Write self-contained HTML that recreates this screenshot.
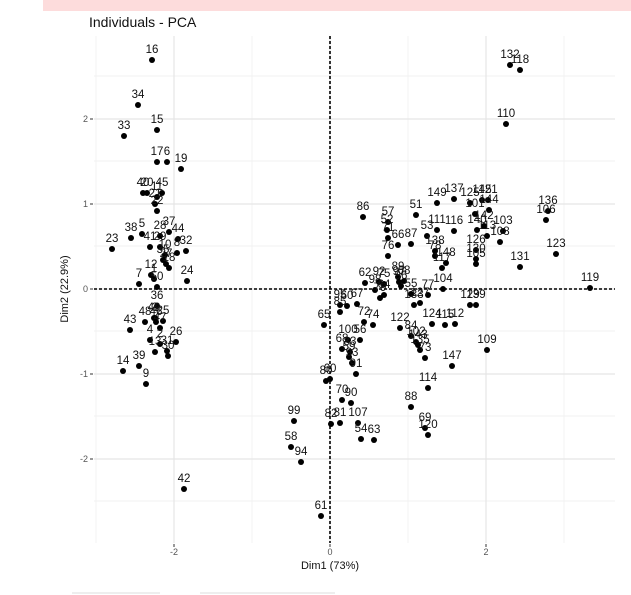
<!DOCTYPE html><html><head><style>body{margin:0;background:#fff}svg{display:block}text{font-family:"Liberation Sans",sans-serif}</style></head><body>
<svg width="631" height="595" viewBox="0 0 631 595" xmlns="http://www.w3.org/2000/svg">
<rect x="43" y="0" width="588" height="11" fill="#fddcdc"/>
<text x="89" y="27" font-size="14" fill="#111">Individuals - PCA</text>
<g stroke="#eeeeee" stroke-width="0.7">
<line x1="94" x2="615" y1="76" y2="76"/><line x1="94" x2="615" y1="161" y2="161"/><line x1="94" x2="615" y1="246" y2="246"/><line x1="94" x2="615" y1="331" y2="331"/><line x1="94" x2="615" y1="416" y2="416"/><line x1="94" x2="615" y1="501" y2="501"/>
<line x1="96" x2="96" y1="36" y2="543"/><line x1="252" x2="252" y1="36" y2="543"/><line x1="408" x2="408" y1="36" y2="543"/><line x1="564" x2="564" y1="36" y2="543"/>
</g>
<g stroke="#e5e5e5" stroke-width="1.2">
<line x1="94" x2="615" y1="119" y2="119"/><line x1="94" x2="615" y1="204" y2="204"/><line x1="94" x2="615" y1="289" y2="289"/><line x1="94" x2="615" y1="374" y2="374"/><line x1="94" x2="615" y1="459" y2="459"/>
<line x1="174" x2="174" y1="36" y2="543"/><line x1="330" x2="330" y1="36" y2="543"/><line x1="486" x2="486" y1="36" y2="543"/>
</g>
<g stroke="#333" stroke-width="1">
<line x1="90" x2="93" y1="119" y2="119"/><line x1="90" x2="93" y1="204" y2="204"/><line x1="90" x2="93" y1="289" y2="289"/><line x1="90" x2="93" y1="374" y2="374"/><line x1="90" x2="93" y1="459" y2="459"/>
<line x1="174" x2="174" y1="544" y2="547"/><line x1="330" x2="330" y1="544" y2="547"/><line x1="486" x2="486" y1="544" y2="547"/>
</g>
<g font-size="9" fill="#555" text-anchor="end">
<text x="88" y="122">2</text><text x="88" y="207">1</text><text x="88" y="292">0</text><text x="88" y="377">-1</text><text x="88" y="462">-2</text>
</g>
<g font-size="9" fill="#555" text-anchor="middle">
<text x="174" y="555">-2</text><text x="330" y="555">0</text><text x="486" y="555">2</text>
</g>
<text x="330" y="569" font-size="11" text-anchor="middle" fill="#111">Dim1 (73%)</text>
<text transform="translate(68,289) rotate(-90)" font-size="11" text-anchor="middle" fill="#111">Dim2 (22.9%)</text>
<line x1="94" x2="615" y1="289" y2="289" stroke="#000" stroke-width="1.6" stroke-dasharray="3,2"/>
<line x1="330" x2="330" y1="36" y2="543" stroke="#000" stroke-width="1.6" stroke-dasharray="3,2"/>
<g id="pts" fill="#000"></g>
<g id="lbl" font-size="11.5" text-anchor="middle" fill="#111"></g>
<line x1="72" x2="160" y1="593" y2="593" stroke="#ddd"/><line x1="200" x2="335" y1="593" y2="593" stroke="#ddd"/>
</svg>
<script>
var d=[[152,60,16],[138,105,34],[124,136,33],[157,130,15],[157,162,17],[167,162,6],[181,169,19],[143,193,40],[147,193,20],[162,193,45],[157,197,11],[155,204,21],[157,211,22],[131,238,38],[142,234,5],[169,232,37],[112,249,23],[150,247,41],[160,236,28],[160,247,29],[178,239,44],[186,251,32],[177,253,8],[165,255,10],[163,260,35],[187,281,24],[139,284,7],[157,287,50],[151,275,12],[154,279,1],[169,268,18],[166,264,27],[157,306,36],[155,318,3],[145,322,48],[130,330,43],[156,322,46],[150,340,4],[176,342,26],[155,352,13],[167,351,31],[168,356,30],[123,371,14],[139,366,39],[146,384,9],[184,489,42],[160,344,2],[163,321,25],[160,328,47],[154,318,49],
[510,65,132],[520,70,118],[506,124,110],[363,217,86],[388,222,57],[416,215,51],[437,203,149],[454,199,137],[470,203,125],[482,200,145],[488,200,121],[489,210,144],[475,214,101],[548,211,136],[546,220,106],[503,231,103],[477,230,140],[484,226,142],[487,236,113],[500,242,108],[556,254,123],[520,267,131],[454,231,116],[437,230,111],[427,236,53],[387,230,52],[388,238,71],[398,245,66],[411,244,87],[435,251,138],[435,256,78],[446,263,148],[442,268,117],[476,250,126],[476,259,130],[476,264,105],[388,256,76],[379,282,92],[365,283,62],[384,284,75],[375,290,98],[384,295,64],[380,298,79],[398,277,89],[399,282,97],[401,286,96],[404,281,68],[411,294,55],[414,305,133],[420,303,127],[428,295,77],[443,289,104],[590,288,119],[470,305,129],[476,305,139],[432,324,124],[445,325,115],[455,324,112],[400,328,122],[411,336,84],[416,342,102],[418,345,143],[420,350,135],[425,358,73],[452,366,147],[428,388,114],[487,350,109],[411,407,88],[425,428,69],[428,435,120],[340,305,95],[340,312,85],[324,325,65],[357,304,67],[364,322,72],[373,325,74],[347,306,60],[348,340,100],[360,340,56],[342,349,68],[350,352,83],[349,357,59],[352,363,93],[356,374,91],[326,381,80],[330,379,60],[342,400,70],[351,403,90],[331,424,82],[340,423,81],[358,423,107],[361,439,54],[374,440,63],[294,421,99],[291,447,58],[301,462,94],[321,516,61]];
var p=document.getElementById('pts'),l=document.getElementById('lbl'),ns='http://www.w3.org/2000/svg';
d.forEach(function(a){var c=document.createElementNS(ns,'circle');c.setAttribute('cx',a[0]);c.setAttribute('cy',a[1]);c.setAttribute('r',3);p.appendChild(c);
var t=document.createElementNS(ns,'text');t.setAttribute('x',a[0]);t.setAttribute('y',a[1]-7);t.textContent=a[2];l.appendChild(t);});
</script>
</body></html>
